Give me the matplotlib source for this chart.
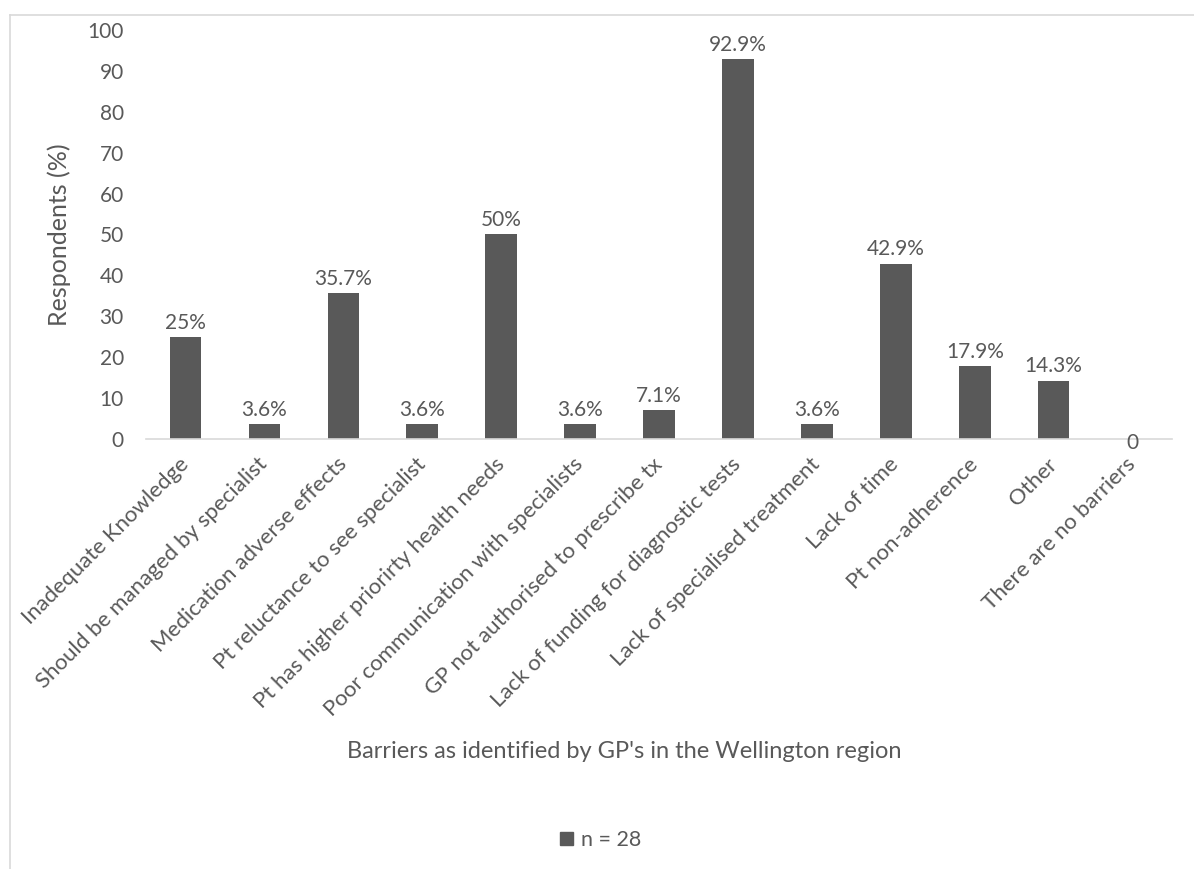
import matplotlib
matplotlib.use('Agg')
import matplotlib.pyplot as plt
from matplotlib.lines import Line2D
from matplotlib.patches import Patch
import numpy as np

plt.rcParams['font.family'] = ['Lato', 'DejaVu Sans']

# data
barriers = ['Inadequate Knowledge', 'Should be managed by specialist',
            'Medication adverse effects', 'Pt reluctance to see specialist',
            'Pt has higher priorirty health needs', 'Poor communication with specialists',
            'GP not authorised to prescribe tx', 'Lack of funding for diagnostic tests',
            'Lack of specialised treatment', 'Lack of time', 'Pt non-adherence',
            'Other', 'There are no barriers']
respondents = [25, 3.6, 35.7, 3.6, 50, 3.6, 7.1, 92.9, 3.6, 42.9, 17.9, 14.3, 0]
bar_labels = ['25%', '3.6%', '35.7%', '3.6%', '50%', '3.6%', '7.1%', '92.9%',
              '3.6%', '42.9%', '17.9%', '14.3%', '0']
yticks = [0, 10, 20, 30, 40, 50, 60, 70, 80, 90, 100]

txt = '#595959'
grey = '#D9D9D9'

fig = plt.figure(figsize=(11.94, 8.69), dpi=100)
ax = fig.add_axes([0.1223, 0.4948, 0.8593, 0.4707])

x = np.arange(len(barriers))
bars = ax.bar(x, respondents, width=0.4, color='#595959', label='n = 28')
ax.set_xlim(-0.5, len(barriers) - 0.5)
ax.set_ylim(0, 100)
ax.set_yticks(yticks)

for b, lab in zip(bars, bar_labels):
    h = b.get_height()
    if h == 0:
        ax.annotate(lab, (b.get_x() + b.get_width() / 2, 0), xytext=(0, -3),
                    textcoords='offset points', ha='center', va='center',
                    fontsize=15, color=txt)
    else:
        ax.annotate(lab, (b.get_x() + b.get_width() / 2, h), xytext=(0, 3),
                    textcoords='offset points', ha='center', va='bottom',
                    fontsize=15, color=txt)

for s in ['top', 'right', 'left']:
    ax.spines[s].set_visible(False)
ax.spines['bottom'].set_color(grey)
ax.spines['bottom'].set_linewidth(1.2)
ax.tick_params(axis='y', length=0, pad=16, labelsize=15, labelcolor=txt)
ax.tick_params(axis='x', length=0, pad=16, labelsize=16, labelcolor=txt)
ax.set_xticks(x)
ax.set_xticklabels(barriers, rotation=45, ha='right', va='center', rotation_mode='anchor')

ax.set_ylabel('Respondents (%)', fontsize=18, color=txt, labelpad=12)
fig.text(0.523, 1 - 752 / 869, "Barriers as identified by GP's in the Wellington region",
         ha='center', va='center', fontsize=17, color=txt)

fig.legend(handles=[Patch(color='#595959', label='n = 28')], loc='center',
           bbox_to_anchor=(0.503, 1 - 840 / 869), frameon=False, fontsize=15.5,
           labelcolor=txt, handlelength=0.6, handleheight=0.6, handletextpad=0.4)

# chart area frame (only top and left edges visible)
fig.add_artist(Line2D([10 / 1194, 1], [1 - 15 / 869, 1 - 15 / 869], color=grey, lw=1.2))
fig.add_artist(Line2D([10 / 1194, 10 / 1194], [0, 1 - 15 / 869], color=grey, lw=1.2))

fig.savefig('out.png', dpi=100)
